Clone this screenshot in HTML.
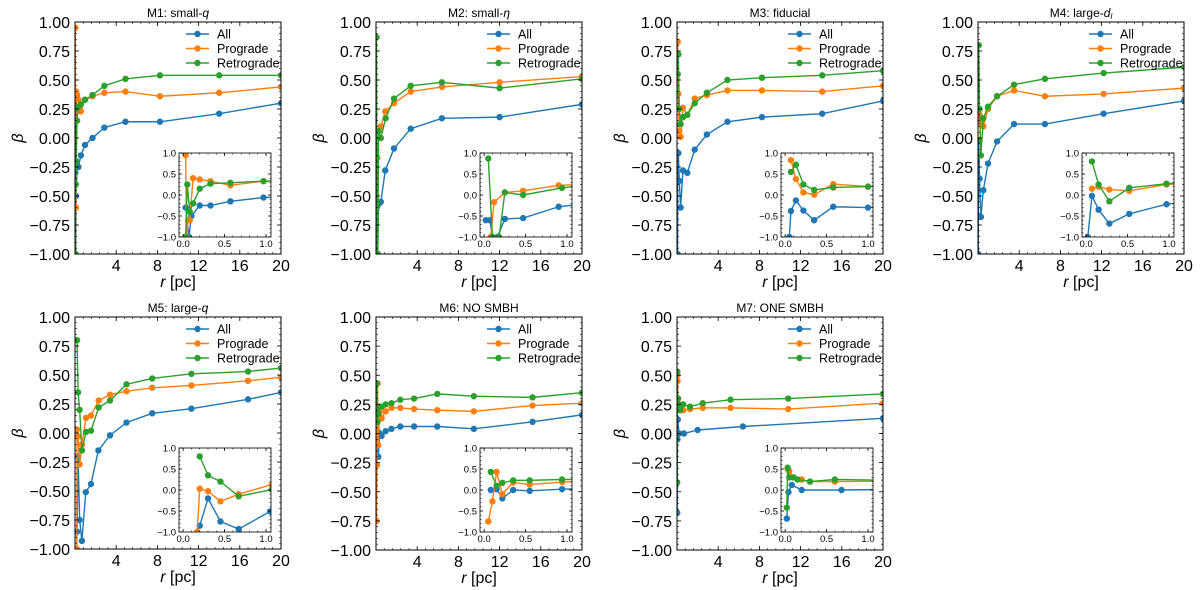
<!DOCTYPE html>
<html><head><meta charset="utf-8">
<style>
html,body{margin:0;padding:0;background:#fff;}
svg{display:block;font-family:"Liberation Sans","DejaVu Sans",sans-serif;}
</style></head>
<body>
<svg id="fig" width="1200" height="590" viewBox="0 0 1200 590"></svg>
<script>
// ---- data (r in pc, beta) ----
const m1AllR=[0.03,0.07,0.1,0.2,0.33,0.57,0.97,1.7,2.85,4.9,8.25,14,20];
const m1AllB=[-0.3,-1,-0.5,-0.25,-0.25,-0.15,-0.06,0.0,0.09,0.14,0.14,0.21,0.30];
const m1ProR=[0.03,0.04,0.06,0.08,0.12,0.2,0.33,0.57,0.97,1.7,2.85,4.9,8.25,14,20];
const m1ProB=[0.95,-1,-0.6,-0.6,0.4,0.37,0.33,0.23,0.33,0.36,0.39,0.40,0.36,0.39,0.44];
const m1RetR=[0.03,0.05,0.08,0.12,0.2,0.33,0.57,0.97,1.7,2.85,4.9,8.25,14,20];
const m1RetB=[-1,0.25,-0.4,-0.2,0.15,0.27,0.29,0.33,0.37,0.45,0.51,0.54,0.54,0.54];

const m2AllR=[0.02,0.07,0.1,0.16,0.25,0.47,0.9,1.75,3.37,6.4,12,20];
const m2AllB=[-0.6,-0.6,-1,-1,-0.57,-0.55,-0.28,-0.09,0.08,0.17,0.18,0.29];
const m2ProR=[0.08,0.12,0.25,0.47,0.9,1.75,3.37,6.4,12,20];
const m2ProB=[-1,-0.17,0.06,0.1,0.23,0.30,0.40,0.44,0.48,0.53];
const m2RetR=[0.05,0.1,0.18,0.25,0.47,0.94,1.75,3.37,6.4,12,20];
const m2RetB=[0.87,-1,-1,0.06,0.0,0.17,0.34,0.45,0.48,0.43,0.51];

const m3AllR=[0.05,0.07,0.13,0.22,0.35,0.58,1.0,1.72,2.9,4.9,8.25,14.1,20];
const m3AllB=[-1,-0.38,-0.13,-0.37,-0.6,-0.28,-0.3,-0.10,0.03,0.14,0.18,0.21,0.32];
const m3ProR=[0.07,0.13,0.22,0.35,0.58,1.0,1.72,2.9,4.9,8.25,14.1,20];
const m3ProB=[0.83,0.38,0.06,0.01,0.26,0.2,0.34,0.37,0.41,0.41,0.40,0.45];
const m3RetR=[0.07,0.13,0.22,0.35,0.58,1.0,1.72,2.9,4.9,8.25,14.1,20];
const m3RetB=[0.55,0.72,0.25,0.12,0.18,0.2,0.30,0.39,0.50,0.52,0.54,0.58];

const m4AllR=[0.02,0.07,0.15,0.28,0.52,0.97,1.85,3.5,6.5,12.2,20];
const m4AllB=[-1,-0.02,-0.35,-0.68,-0.45,-0.22,-0.03,0.12,0.12,0.21,0.32];
const m4ProR=[0.07,0.15,0.28,0.52,0.97,1.85,3.5,6.5,12.2,20];
const m4ProB=[0.15,0.2,0.13,0.1,0.25,0.36,0.41,0.36,0.38,0.43];
const m4RetR=[0.07,0.15,0.28,0.52,0.97,1.85,3.5,6.5,12.2,20];
const m4RetB=[0.8,0.25,-0.15,0.17,0.27,0.36,0.46,0.51,0.56,0.61];

const m5AllR=[0.17,0.2,0.3,0.45,0.67,1.05,1.55,2.27,3.4,5.0,7.5,11.3,16.8,20];
const m5AllB=[-1,-0.85,-0.2,-0.75,-0.93,-0.51,-0.44,-0.15,-0.02,0.09,0.17,0.21,0.29,0.35];
const m5ProR=[0.17,0.2,0.3,0.45,0.67,1.07,1.55,2.3,3.4,5.0,7.5,11.3,16.8,20];
const m5ProB=[-1,0.03,-0.03,-0.27,-0.1,0.13,0.15,0.28,0.33,0.36,0.39,0.41,0.45,0.48];
const m5RetR=[0.2,0.3,0.45,0.67,1.07,1.55,2.3,3.4,5.0,7.5,11.3,16.8,20];
const m5RetB=[0.8,0.35,0.2,-0.15,0.01,0.02,0.22,0.28,0.42,0.47,0.51,0.53,0.56];

const m6AllR=[0.08,0.15,0.22,0.35,0.55,0.94,1.5,2.36,3.7,5.95,9.5,15.2,20];
const m6AllB=[0.0,0.02,-0.2,0.0,-0.02,0.02,0.04,0.06,0.06,0.06,0.04,0.10,0.16];
const m6ProR=[0.05,0.1,0.15,0.22,0.35,0.55,0.94,1.5,2.36,3.7,5.95,9.5,15.2,20];
const m6ProB=[-0.75,-0.27,0.43,-0.1,0.18,0.13,0.19,0.22,0.22,0.21,0.20,0.19,0.24,0.26];
const m6RetR=[0.08,0.15,0.22,0.35,0.55,0.94,1.5,2.36,3.7,5.95,9.5,15.2,20];
const m6RetB=[0.43,0.1,0.17,0.23,0.23,0.25,0.26,0.29,0.30,0.34,0.32,0.31,0.35];

const m7AllR=[0.02,0.04,0.08,0.2,0.68,2.0,6.4,20];
const m7AllB=[-0.68,-0.05,0.12,0.0,0.0,0.03,0.06,0.13];
const m7ProR=[0.03,0.05,0.1,0.2,0.3,0.6,1.26,2.5,5.2,10.8,20];
const m7ProB=[0.5,0.45,0.3,0.25,0.2,0.2,0.21,0.22,0.22,0.21,0.26];
const m7RetR=[0.02,0.03,0.05,0.1,0.15,0.3,0.6,1.26,2.5,5.2,10.8,20];
const m7RetB=[-0.42,0.53,0.3,0.3,0.25,0.2,0.25,0.23,0.26,0.29,0.30,0.34];

const titles=["M1: small-","M2: small-","M3: fiducial","M4: large-","M5: large-","M6: NO SMBH","M7: ONE SMBH"];
const titleItalic=["q","η","","d","q","",""];
const mainXTicks=[4,8,12,16,20];
const mainYTicks=[-1,-0.75,-0.5,-0.25,0,0.25,0.5,0.75,1];
const insetXTicks=[0,0.5,1];
const insetYTicks=[-1,-0.5,0,0.5,1];
const seriesNames=["All","Prograde","Retrograde"];

const COLORS=["#1f77b4","#ff7f0e","#2ca02c"];
const DATA=[
 [[m1AllR,m1AllB],[m1ProR,m1ProB],[m1RetR,m1RetB]],
 [[m2AllR,m2AllB],[m2ProR,m2ProB],[m2RetR,m2RetB]],
 [[m3AllR,m3AllB],[m3ProR,m3ProB],[m3RetR,m3RetB]],
 [[m4AllR,m4AllB],[m4ProR,m4ProB],[m4RetR,m4RetB]],
 [[m5AllR,m5AllB],[m5ProR,m5ProB],[m5RetR,m5RetB]],
 [[m6AllR,m6AllB],[m6ProR,m6ProB],[m6RetR,m6RetB]],
 [[m7AllR,m7AllB],[m7ProR,m7ProB],[m7RetR,m7RetB]]
];
const LAYOUT=[[75,22,254],[376,22,254],[677,22,254],[978,22,254],[75,317,549],[376,317,550],[677,317,550]];
const W=206;
const NS="http://www.w3.org/2000/svg";
const fig=document.getElementById('fig');
function mk(tag,attrs,parent){const e=document.createElementNS(NS,tag);for(const k in attrs)e.setAttribute(k,attrs[k]);(parent||fig).appendChild(e);return e;}
function fmt(v,d){let s=v.toFixed(d);if(v<0)s="\u2212"+(-v).toFixed(d);return s;}

function drawTicks(g,x0,y0,w,h,xs,ys,xmaj,ymaj,xmin,ymin,L,l){
  xmaj.forEach(v=>{const X=xs(v);mk('line',{x1:X,x2:X,y1:y0+h,y2:y0+h-L,stroke:'#000','stroke-width':0.8},g);mk('line',{x1:X,x2:X,y1:y0,y2:y0+L,stroke:'#000','stroke-width':0.8},g);});
  ymaj.forEach(v=>{const Y=ys(v);mk('line',{x1:x0,x2:x0+L,y1:Y,y2:Y,stroke:'#000','stroke-width':0.8},g);mk('line',{x1:x0+w,x2:x0+w-L,y1:Y,y2:Y,stroke:'#000','stroke-width':0.8},g);});
  xmin.forEach(v=>{const X=xs(v);if(X<x0||X>x0+w)return;mk('line',{x1:X,x2:X,y1:y0+h,y2:y0+h-l,stroke:'#000','stroke-width':0.6},g);mk('line',{x1:X,x2:X,y1:y0,y2:y0+l,stroke:'#000','stroke-width':0.6},g);});
  ymin.forEach(v=>{const Y=ys(v);mk('line',{x1:x0,x2:x0+l,y1:Y,y2:Y,stroke:'#000','stroke-width':0.6},g);mk('line',{x1:x0+w,x2:x0+w-l,y1:Y,y2:Y,stroke:'#000','stroke-width':0.6},g);});
}

function drawSeries(g,data,xs,ys,clipId,r,name){
  data.forEach((s,si)=>{
    const [R,B]=s;
    const sg=mk('g',{'clip-path':'url(#'+clipId+')'},g);
    
    
    const pts=R.map((v,i)=>xs(v).toFixed(2)+','+ys(B[i]).toFixed(2)).join(' ');
    mk('polyline',{points:pts,fill:'none',stroke:COLORS[si],'stroke-width':1.4},sg);
    R.forEach((v,i)=>{
      const c=mk('circle',{cx:xs(v),cy:ys(B[i]),r:r,fill:COLORS[si]},sg);
      
      
    });
  });
}

LAYOUT.forEach((L,pi)=>{
  const [x0,y0,y1]=L;const h=y1-y0;
  const g=mk('g',{});
  
  
  const xs=v=>x0+v/20*W, ys=v=>y0+(1-v)/2*h;
  const cid='clipm'+pi;
  const cp=mk('clipPath',{id:cid},g);mk('rect',{x:x0,y:y0,width:W,height:h},cp);
  drawSeries(g,DATA[pi],xs,ys,cid,3.2,'main');
  const fr=mk('rect',{x:x0,y:y0,width:W,height:h,fill:'none',stroke:'#000','stroke-width':1},g);
  
  const xmin=[],ymin=[];for(let v=0;v<=20;v+=0.8)xmin.push(v);for(let v=-1;v<=1.001;v+=0.05)ymin.push(v);
  drawTicks(g,x0,y0,W,h,xs,ys,mainXTicks,mainYTicks,xmin,ymin,4,2);
  mainXTicks.forEach(v=>{const t=mk('text',{x:xs(v),y:y1+17,'font-size':16,'text-anchor':'middle'},g);t.textContent=String(v);});
  mainYTicks.forEach(v=>{const t=mk('text',{x:x0-5,y:ys(v)+6,'font-size':16,'text-anchor':'end'},g);t.textContent=fmt(v,2);});
  const xl=mk('text',{x:x0+W/2,y:y1+33,'font-size':16,'text-anchor':'middle'},g);
  xl.innerHTML='<tspan font-style="italic">r</tspan> [pc]';
  
  const yl=mk('text',{x:0,y:0,'font-size':16,'text-anchor':'middle','font-style':'italic',transform:'translate('+(x0-52)+','+(y0+h/2)+') rotate(-90)'},g);
  yl.textContent='β';
  const tt=mk('text',{x:x0+W/2,y:y0-5,'font-size':12,'text-anchor':'middle'},g);
  tt.textContent=titles[pi];
  if(titleItalic[pi]){const ts=mk('tspan',{'font-style':'italic'},tt);ts.textContent=titleItalic[pi];if(pi===3){const sb=mk('tspan',{'font-style':'italic','font-size':8,dy:2},tt);sb.textContent='l';}}
  
  const lg=mk('g',{},g);
  seriesNames.forEach((n,i)=>{
    const ly=y0+12+i*14.5;
    const e=mk('g',{},lg);
    mk('line',{x1:x0+111,x2:x0+134,y1:ly,y2:ly,stroke:COLORS[i],'stroke-width':1.4},e);
    mk('circle',{cx:x0+122.5,cy:ly,r:3.2,fill:COLORS[i]},e);
    const t=mk('text',{x:x0+142,y:ly+4.5,'font-size':12.5},e);t.textContent=n;
  });
  const ix=x0+104,iy=y0+131,iw=92,ih=84;
  const ig=mk('g',{},g);
  mk('rect',{x:ix,y:iy,width:iw,height:ih,fill:'#fff'},ig);
  const ixs=v=>ix+(v+0.05)/1.11*iw, iys=v=>iy+(1-v)/2*ih;
  const icid='clipi'+pi;
  const icp=mk('clipPath',{id:icid},ig);mk('rect',{x:ix,y:iy,width:iw,height:ih},icp);
  drawSeries(ig,DATA[pi],ixs,iys,icid,3.2,'inset');
  mk('rect',{x:ix,y:iy,width:iw,height:ih,fill:'none',stroke:'#000','stroke-width':0.8},ig);
  const ixm=[],iym=[];for(let v=0;v<=1.001;v+=0.1)ixm.push(v);for(let v=-1;v<=1.001;v+=0.1)iym.push(v);
  drawTicks(ig,ix,iy,iw,ih,ixs,iys,insetXTicks,insetYTicks,ixm,iym,3,1.5);
  insetXTicks.forEach(v=>{const t=mk('text',{x:ixs(v),y:iy+ih+10,'font-size':9.5,'text-anchor':'middle'},ig);t.textContent=v.toFixed(1);});
  insetYTicks.forEach(v=>{const t=mk('text',{x:ix-3,y:iys(v)+3.5,'font-size':9.5,'text-anchor':'end'},ig);t.textContent=fmt(v,1);});
});
</script>
</body></html>
